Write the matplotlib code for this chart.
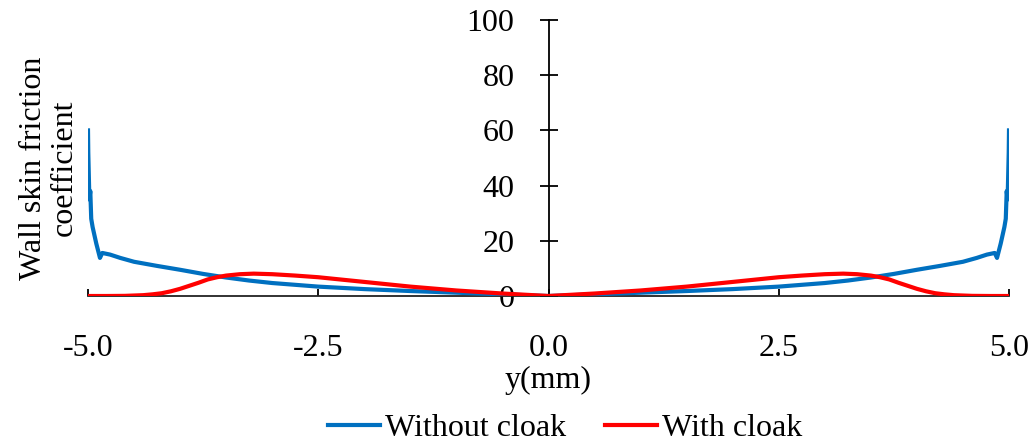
import numpy as np
import matplotlib.pyplot as plt

plt.rcParams['font.family'] = ['Liberation Serif', 'DejaVu Serif']

# half profiles (y >= 0), mirrored to the negative side
y_half = [0.0, 0.5, 1.0, 1.5, 2.0, 2.5, 3.0, 3.25, 3.5, 3.75, 4.0, 4.25, 4.5, 4.65,
          4.76, 4.845, 4.87, 4.91, 4.95, 4.965, 4.975, 4.985, 4.992, 4.997, 5.0]
without_half = [0.0, 0.6, 1.2, 1.8, 2.5, 3.4, 4.7, 5.6, 6.7, 8.0, 9.5, 10.9, 12.4, 13.8,
                15.0, 15.6, 13.8, 19.0, 25.0, 28.0, 38.0, 35.0, 45.0, 52.0, 60.0]

yr_half = [0.0, 0.5, 1.0, 1.5, 2.0, 2.5, 2.75, 3.0, 3.2, 3.35, 3.5, 3.6, 3.7, 3.8,
           3.9, 4.0, 4.1, 4.2, 4.3, 4.4, 4.6, 4.8, 5.0]
with_half = [0.0, 0.9, 2.0, 3.4, 5.1, 6.8, 7.4, 7.9, 8.1, 7.9, 7.4, 6.8, 6.0, 4.8,
             3.7, 2.6, 1.7, 1.0, 0.6, 0.3, 0.05, 0.0, 0.0]

xticks = [-5.0, -2.5, 0.0, 2.5, 5.0]
xlabels = ['-5.0', '-2.5', '0.0', '2.5', '5.0']
yticks = [0, 20, 40, 60, 80, 100]

y_wo = np.concatenate([-np.array(y_half[::-1]), np.array(y_half[1:])])
v_wo = np.concatenate([np.array(without_half[::-1]), np.array(without_half[1:])])
y_w = np.concatenate([-np.array(yr_half[::-1]), np.array(yr_half[1:])])
v_w = np.concatenate([np.array(with_half[::-1]), np.array(with_half[1:])])

fig = plt.figure(figsize=(10.31, 4.44), dpi=100)
ax = fig.add_axes([88 / 1031, 1 - 296 / 444, (1009 - 88) / 1031, (296 - 20) / 444])

ax.plot(y_wo, v_wo, color='#0070C0', lw=3.0, label='Without cloak', zorder=3,
        solid_joinstyle='round')
ax.plot(y_w, v_w, color='#FF0000', lw=3.0, label='With cloak', zorder=4,
        solid_joinstyle='round')

ax.set_xlim(-5, 5)
ax.set_ylim(0, 100)
ax.spines['top'].set_visible(False)
ax.spines['right'].set_visible(False)
ax.spines['left'].set_position(('data', 0))
ax.spines['left'].set_zorder(2)
ax.spines['bottom'].set_color('#222222')
ax.spines['bottom'].set_linewidth(1.3)
ax.spines['left'].set_linewidth(1.3)

ax.set_xticks(xticks)
ax.set_xticklabels(xlabels)
ax.set_yticks(yticks)
ax.tick_params(axis='x', direction='in', length=5, width=1.3, pad=27, labelsize=23)
ax.tick_params(axis='y', direction='inout', length=13, width=1.3, pad=18, labelsize=23)

fig.text(548 / 1031, 1 - 380 / 444, 'y(mm)', ha='center', va='center', fontsize=23)
fig.text(49 / 1031, 1 - 168 / 444, 'Wall skin friction\ncoefficient', ha='center',
         va='center', rotation=90, fontsize=23, linespacing=1.1)

fig.legend(loc='center', bbox_to_anchor=(0.548, 1 - 428 / 444), ncol=2, frameon=False,
           fontsize=23, handlelength=1.65, handletextpad=0.15, columnspacing=1.2)

fig.savefig('out.png', dpi=100)
